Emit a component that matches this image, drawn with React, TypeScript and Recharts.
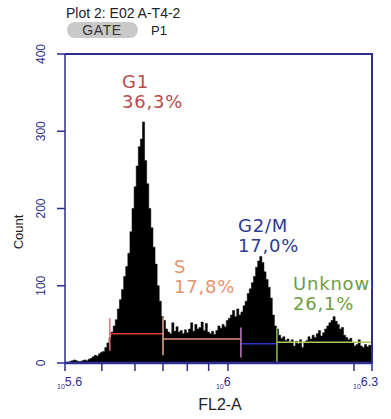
import React from 'react';
import { ComposedChart, Area, XAxis, YAxis, ReferenceLine } from 'recharts';

const W = 391;
const H = 419;

// Histogram of FL2-A (log10 channel), bins of 0.005 decades starting at 10^5.611
const binStart = 5.611;
const binWidth = 0.005;
const counts = [
  1, 1, 2, 3, 4, 3, 2, 2, 3, 4, 3, 5, 6, 8, 10, 9, 12, 14, 15, 20,
  26, 33, 40, 48, 56, 70, 82, 95, 112, 125, 142, 170, 200, 228, 255, 280, 290, 312, 262, 232,
  200, 175, 150, 128, 100, 80, 60, 55, 44, 40, 38, 52, 41, 47, 40, 42, 38, 43, 39, 44,
  52, 41, 50, 44, 46, 53, 42, 51, 40, 38, 41, 37, 42, 48, 45, 50, 47, 55, 58, 62,
  68, 60, 70, 62, 66, 74, 80, 90, 96, 104, 112, 124, 132, 138, 130, 118, 108, 98, 84, 62,
  48, 44, 36, 32, 34, 29, 31, 27, 30, 22, 28, 25, 30, 20, 27, 29, 34, 31, 36, 33,
  38, 42, 35, 39, 44, 48, 52, 55, 60, 54, 50, 44, 46, 36, 33, 30, 32, 26, 22, 24,
  30, 22, 20, 24, 21, 23, 22,
];

const xDomain = [5.611, 6.344];
const xTicks = [5.611, 5.699, 5.778, 5.845, 5.903, 5.954, 6.0, 6.301, 6.344];
const xTickLabels: Record<string, string> = { '5.611': '5.6', '6': '6', '6.344': '6.3' };
const yTicks = [0, 100, 200, 300, 400];

// Gates
const gateNames = ['G1', 'S', 'G2/M', 'Unknown'];
const gatePercents = ['36,3%', '17,8%', '17,0%', '26,1%'];
const gateStart = [5.718, 5.845, 6.031, 6.117];
const gateEnd = [5.845, 6.031, 6.117, 6.344];
const gateLevel = [38, 31, 25, 27];
const gateTickTop = [58, 59, 46, 46];
const gateTickBottom = [16, 10, 7, 1];

const gateLineColors = ['#e03a3a', '#ec8f78', '#2a36c8', '#a9c766'];
const gateEdgeColors = ['#e0707a', '#e8b090', '#c27ac8', '#8fb860'];
const gateTextColors = ['#b94a4a', '#e8946c', '#2d3a92', '#6e9c46'];
const gateTextPos = [
  { x: 122, y1: 88, y2: 108 },
  { x: 174, y1: 273, y2: 293 },
  { x: 238, y1: 232, y2: 252 },
  { x: 293, y1: 290, y2: 310 },
];

const NAVY = '#2d2d8f';

const data = counts.map((c, i) => ({ x: binStart + i * binWidth, count: c }));
data.push({ x: binStart + counts.length * binWidth, count: counts[counts.length - 1] });

const YTick = (props: any) => {
  const { y, payload } = props;
  return (
    <text
      x={45}
      y={y}
      transform={`rotate(-90 45 ${y})`}
      textAnchor="middle"
      fontFamily="Liberation Sans, Arial, sans-serif"
      fontSize={12}
      fill={NAVY}
    >
      {payload.value}
    </text>
  );
};

const labelOffsets: Record<string, number> = { '5.611': -8, '6': -12, '6.344': -19 };

const XTick = (props: any) => {
  const { x, payload } = props;
  const key = String(payload.value);
  const lab = xTickLabels[key];
  if (!lab) return null;
  return (
    <text x={x + labelOffsets[key]} y={388} fontFamily="Liberation Sans, Arial, sans-serif" fill={NAVY}>
      <tspan fontSize={7} dy={1}>10</tspan>
      <tspan fontSize={12.5} dy={-3}>{lab}</tspan>
    </text>
  );
};

export default function App() {
  return (
    <div style={{ position: 'absolute', left: 0, top: 0, width: W, height: H, background: '#fff' }}>
      <ComposedChart
        width={W}
        height={H}
        data={data}
        margin={{ top: 54, right: 19, left: 10, bottom: 10 }}
      >
        <XAxis
          dataKey="x"
          type="number"
          domain={xDomain}
          allowDataOverflow
          ticks={xTicks}
          interval={0}
          height={46}
          tickSize={8}
          tick={<XTick />}
          tickLine={{ stroke: NAVY, strokeWidth: 1.5 }}
          axisLine={{ stroke: NAVY, strokeWidth: 2.5 }}
        />
        <YAxis
          type="number"
          domain={[0, 400]}
          ticks={yTicks}
          interval={0}
          width={55}
          tickSize={8}
          tick={<YTick />}
          tickLine={{ stroke: NAVY, strokeWidth: 1.5 }}
          axisLine={{ stroke: NAVY, strokeWidth: 1.5 }}
        />
        <Area
          dataKey="count"
          type="stepAfter"
          fill="#000"
          fillOpacity={1}
          stroke="#000"
          strokeWidth={0.5}
          isAnimationActive={false}
          dot={false}
          activeDot={false}
        />
        {gateNames.map((g, i) => (
          <ReferenceLine
            key={g + 'h'}
            segment={[{ x: gateStart[i], y: gateLevel[i] }, { x: gateEnd[i], y: gateLevel[i] }]}
            stroke={gateLineColors[i]}
            strokeWidth={1.5}
          />
        ))}
        {gateNames.map((g, i) => (
          <ReferenceLine
            key={g + 'v'}
            segment={[{ x: gateStart[i], y: gateTickBottom[i] }, { x: gateStart[i], y: gateTickTop[i] }]}
            stroke={gateEdgeColors[i]}
            strokeWidth={1.5}
          />
        ))}
      </ComposedChart>
      <svg
        width={W}
        height={H}
        style={{ position: 'absolute', left: 0, top: 0, pointerEvents: 'none' }}
      >
        <defs>
          <clipPath id="plotClip">
            <rect x={65} y={54} width={307} height={309} />
          </clipPath>
        </defs>
        <polyline points="65,54 372,54 372,363" fill="none" stroke={NAVY} strokeWidth={2} />
        <text x={66} y={18} fontFamily="Liberation Sans, Arial, sans-serif" fontSize={14} fill="#222">
          Plot 2: E02 A-T4-2
        </text>
        <rect x={67} y={22} width={71} height={16} rx={8} fill="#c9c9c9" />
        <text x={102} y={35} textAnchor="middle" fontFamily="Liberation Sans, Arial, sans-serif" fontSize={14} letterSpacing={0.6} fill="#333">
          GATE
        </text>
        <text x={151} y={35} fontFamily="Liberation Sans, Arial, sans-serif" fontSize={13} fill="#222">
          P1
        </text>
        <text
          x={23}
          y={232}
          transform="rotate(-90 23 232)"
          textAnchor="middle"
          fontFamily="Liberation Sans, Arial, sans-serif"
          fontSize={13}
          fill="#222"
        >
          Count
        </text>
        <text x={220} y={410} textAnchor="middle" fontFamily="Liberation Sans, Arial, sans-serif" fontSize={16} fill="#222">
          FL2-A
        </text>
        <g clipPath="url(#plotClip)">
          {gateNames.map((g, i) => (
            <g key={g} fontFamily="DejaVu Sans, sans-serif" fontSize={18} letterSpacing={0.8} fill={gateTextColors[i]}>
              <text x={gateTextPos[i].x} y={gateTextPos[i].y1}>{g}</text>
              <text x={gateTextPos[i].x} y={gateTextPos[i].y2}>{gatePercents[i]}</text>
            </g>
          ))}
        </g>
      </svg>
    </div>
  );
}
